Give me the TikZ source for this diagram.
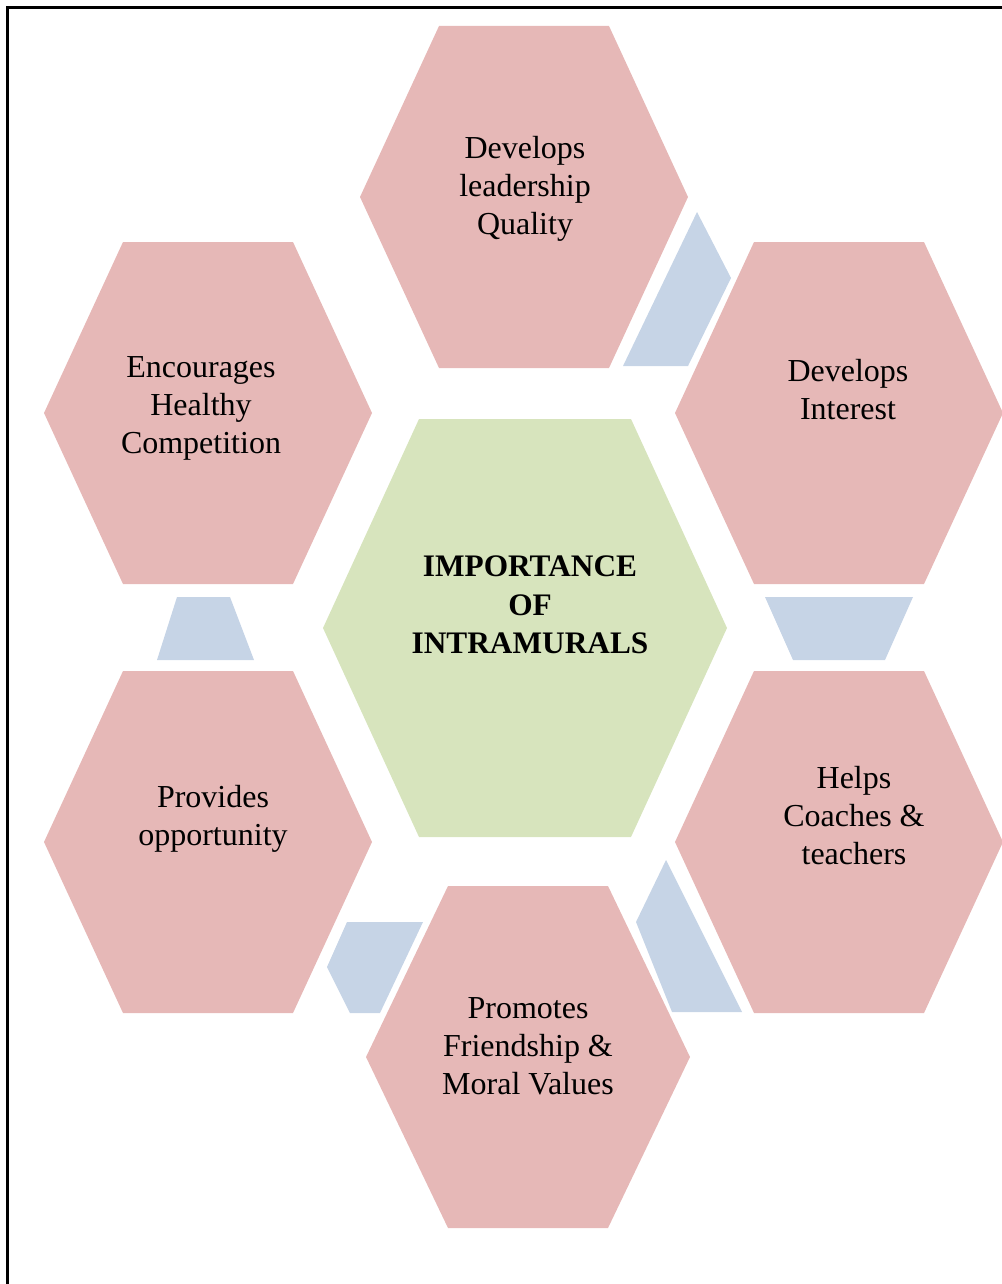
\documentclass[tikz,border=0pt]{standalone}
\usepackage{fontspec}
\setmainfont{Liberation Serif}
\definecolor{hexred}{HTML}{E6B8B7}
\definecolor{hexgreen}{HTML}{D7E4BD}
\definecolor{hexblue}{HTML}{C6D4E6}
\newcommand\hexfill[6]{%
  \fill[#1] ({#2-#4},#3) -- ({#2-#5},{#3-#6}) -- ({#2+#5},{#3-#6}) -- ({#2+#4},#3)
    -- ({#2+#5},{#3+#6}) -- ({#2-#5},{#3+#6}) -- cycle;}
\begin{document}
\begin{tikzpicture}[x=0.75pt,y=-0.75pt,
  lbl/.style={align=center, font=\fontsize{24}{28.5}\selectfont, inner sep=0pt},
  ctr/.style={align=center, font=\bfseries\fontsize{23.5}{29}\selectfont, inner sep=0pt},
  blueshape/.style={fill=hexblue},
  frame/.style={draw=black, line width=2.25pt}]
\useasboundingbox (0,0) rectangle (1002,1284);
% frame (left and top edges visible)
\coordinate (fa) at (7.5,1284);
\coordinate (fb) at (7.5,7.5);
\coordinate (fc) at (1002,7.5);
\draw[frame] (fa) -- (fb) -- (fc);
% blue linking shapes
\fill[blueshape] (697,212) -- (731,278) -- (688,366) -- (623,366) -- cycle;
\fill[blueshape] (765,597) -- (913,597) -- (885,660) -- (793,660) -- cycle;
\fill[blueshape] (177,597) -- (230,597) -- (254,660) -- (157,660) -- cycle;
\fill[blueshape] (347,922) -- (423,922) -- (380,1013) -- (350,1013) -- (327,967) -- cycle;
\fill[blueshape] (666,860) -- (742,1012) -- (672,1012) -- (636,922) -- cycle;
% hexagons
\hexfill{hexred}{524}{197}{164}{85}{171}
\hexfill{hexred}{208}{413}{164}{85}{171}
\hexfill{hexred}{839}{413}{164}{85}{171}
\hexfill{hexred}{208}{842}{164}{85}{171}
\hexfill{hexred}{839}{842}{164}{85}{171}
\hexfill{hexred}{528}{1057}{162}{80}{171}
\hexfill{hexgreen}{525}{628}{202}{106}{209}
% texts
\node[lbl] (t1) at (525,189) {Develops\\leadership\\Quality};
\node[lbl] (t2) at (201,408) {Encourages\\Healthy\\Competition};
\node[lbl] (t3) at (848,390) {Develops\\Interest};
\node[lbl] (t4) at (213,819) {Provides\\opportunity};
\node[lbl] (t5) at (854,816) {Helps\\Coaches \&\\teachers};
\node[lbl] (t6) at (528,1046) {Promotes\\Friendship \&\\Moral Values};
\node[ctr] (c) at (530,605) {IMPORTANCE\\OF\\INTRAMURALS};
\end{tikzpicture}
\end{document}
